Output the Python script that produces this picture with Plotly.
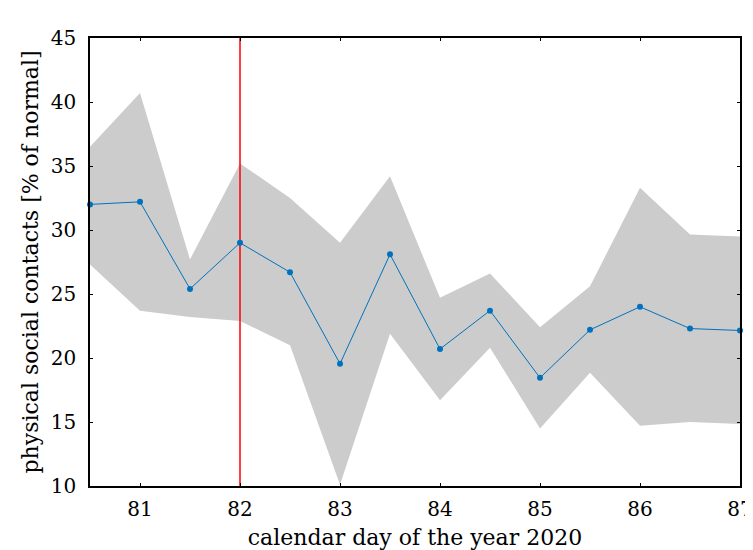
import plotly.graph_objects as go

days = [80.5, 81, 81.5, 82, 82.5, 83, 83.5, 84, 84.5, 85, 85.5, 86, 86.5, 87]
mean_vals = [32.0, 32.2, 25.4, 29.0, 26.7, 19.55, 28.1, 20.7, 23.7, 18.45, 22.2, 24.0, 22.3, 22.15]
upper_vals = [36.5, 40.7, 27.7, 35.2, 32.5, 29.0, 34.2, 24.7, 26.6, 22.4, 25.6, 33.3, 29.65, 29.5]
lower_vals = [27.3, 23.7, 23.2, 22.9, 21.0, 10.1, 21.9, 16.7, 20.8, 14.5, 18.85, 14.7, 15.0, 14.85]
event_day = 82
x_ticks = [81, 82, 83, 84, 85, 86, 87]
y_ticks = [10, 15, 20, 25, 30, 35, 40, 45]

FONT = "DejaVu Serif"

fig = go.Figure()
fig.add_trace(go.Scatter(x=days, y=upper_vals, mode="lines", line=dict(width=0, color="#cccccc"),
                         showlegend=False, hoverinfo="skip"))
fig.add_trace(go.Scatter(x=days, y=lower_vals, mode="lines", line=dict(width=0, color="#cccccc"),
                         fill="tonexty", fillcolor="#cccccc", showlegend=False, hoverinfo="skip"))
fig.add_trace(go.Scatter(x=[event_day, event_day], y=[10, 45], mode="lines",
                         line=dict(color="#ff0000", width=1.5), showlegend=False))
fig.add_trace(go.Scatter(x=days, y=mean_vals, mode="lines+markers",
                         line=dict(color="#0072bd", width=1), marker=dict(size=6, color="#0072bd"),
                         showlegend=False, cliponaxis=False))

axis_common = dict(showgrid=False, zeroline=False, showline=True, linecolor="black", linewidth=1.5,
                   mirror="ticks", ticks="inside", ticklen=3, tickcolor="black", automargin=False,
                   tickfont=dict(family=FONT, size=20, color="black"))
fig.update_xaxes(range=[80.5, 87], tickvals=x_ticks, ticklabelstandoff=4,
                 title=dict(text="calendar day of the year 2020", font=dict(family=FONT, size=22, color="black"), standoff=11),
                 **axis_common)
fig.update_yaxes(range=[10, 45], tickvals=y_ticks, ticklabelstandoff=8,
                 title=dict(text="physical social contacts [% of normal]", font=dict(family=FONT, size=22, color="black"), standoff=6),
                 **axis_common)
fig.update_layout(width=745, height=542, plot_bgcolor="white", paper_bgcolor="white",
                  margin=dict(l=82, r=13, t=30, b=64), font=dict(family=FONT))
fig.write_html("out.html")
